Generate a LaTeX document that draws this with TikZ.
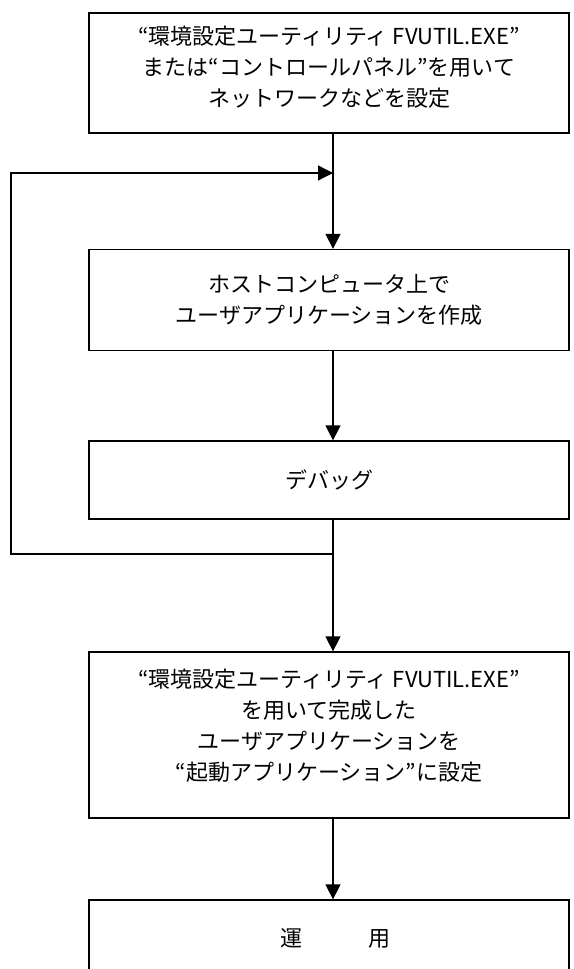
\documentclass[tikz,border=0pt]{standalone}
\usepackage{fontspec}
\setmainfont{Noto Sans CJK JP}
\usepackage{tikz}
\usetikzlibrary{arrows.meta,positioning}

\begin{document}
\begin{tikzpicture}[x=1pt, y=-1pt, line width=1.3pt,
    >={Triangle[length=15pt,width=15pt]},
    stepbox/.style={draw, rectangle, minimum width=480pt, inner sep=0pt, align=center,
                    font=\fontsize{22}{31}\selectfont}]
    \clip (0,0) rectangle (573,969);

    \node[stepbox, minimum height=120pt] (setup)   at (329, 73)  {“環境設定ユーティリティ FVUTIL.EXE”\\または“コントロールパネル”を用いて\\ネットワークなどを設定\\[-17pt]};
    \node[stepbox, minimum height=101pt] (create)  at (329, 300) {ホストコンピュータ上で\\ユーザアプリケーションを作成};
    \node[stepbox, minimum height=78pt]  (debug)   at (329, 480) {デバッグ};
    \node[stepbox, minimum height=166pt] (install) at (329, 735) {“環境設定ユーティリティ FVUTIL.EXE”\\を用いて完成した\\ユーザアプリケーションを\\“起動アプリケーション”に設定\\[-11pt]};
    \node[stepbox, minimum height=76pt]  (operate) at (329, 938) {\hspace*{12pt}運　　　用};

    % loop back from debug to create
    \coordinate (merge)   at (333, 173);
    \coordinate (split)   at (333, 554);
    \coordinate (loopbot) at (11, 554);
    \coordinate (looptop) at (11, 173);

    \path[->]
    (setup.south -| merge)   edge (create.north -| merge)
    (create.south -| merge)  edge (debug.north -| merge)
    (debug.south -| merge)   edge (install.north -| merge)
    (install.south -| merge) edge (operate.north -| merge);
    \draw[->] (split) -- (loopbot) -- (looptop) -- (merge);
\end{tikzpicture}
\end{document}
